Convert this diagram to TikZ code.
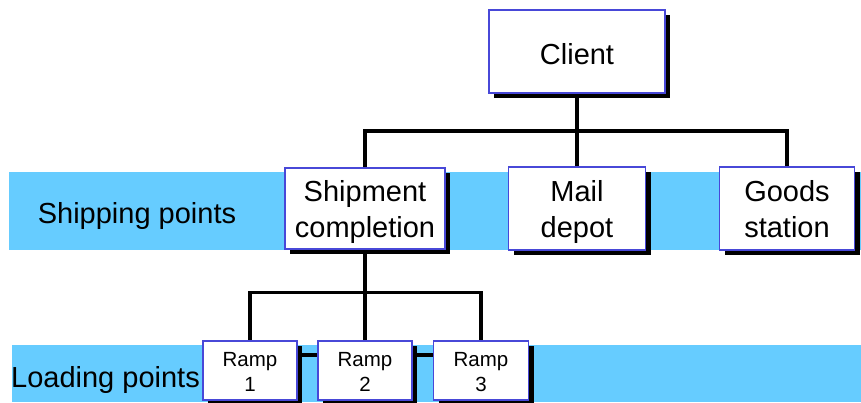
\documentclass[tikz,border=0pt]{standalone}
\usepackage{fontspec}
\setmainfont{Liberation Sans}
\usetikzlibrary{shadows}
\definecolor{bandblue}{HTML}{66CCFF}
\definecolor{boxblue}{RGB}{72,72,216}
\newcommand{\lowerby}[1]{\rule{0pt}{#1}}
\newcommand{\deepby}[1]{\rule[-#1]{0pt}{#1}}
\pgfdeclarelayer{bandlayer}
\pgfdeclarelayer{connlayer}
\pgfsetlayers{bandlayer,connlayer,main}
\tikzset{
  box/.style={draw=boxblue, line width=1.3pt, fill=white, inner sep=0pt,
    align=center,
    drop shadow={shadow xshift=5pt, shadow yshift=-5pt, opacity=1, fill=black}},
  bigtxt/.style={font=\fontsize{29}{36.5}\selectfont},
  smalltxt/.style={font=\fontsize{20.5}{25.7}\selectfont},
  conn/.style={line width=3.4pt, black},
  chain/.style={line width=4pt, black},
  band/.style={fill=bandblue, draw=none},
  bandlabel/.style={font=\fontsize{29}{36.5}\selectfont, anchor=base, inner sep=0pt}
}
\begin{document}
\begin{tikzpicture}[x=1pt, y=-1pt]
\useasboundingbox (0,0) rectangle (861,402);
% bands
\begin{pgfonlayer}{bandlayer}
\path[band] (9,172) rectangle (861,250);
\path[band] (12,345) rectangle (861,402);
\end{pgfonlayer}
% bus coordinates
\coordinate (busA) at (577,131);
\coordinate (busB) at (365,292.5);
% boxes
\node[box, bigtxt, minimum width=176pt, minimum height=83pt] (client) at (577,51.5) {\lowerby{27pt}Client};
\node[box, bigtxt, minimum width=160pt, minimum height=81pt] (ship) at (365,208.5) {\lowerby{29pt}Shipment\\completion\deepby{7pt}};
\node[box, bigtxt, minimum width=137pt, minimum height=83pt] (mail) at (577,208.5) {\lowerby{29pt}Mail\\depot\deepby{7pt}};
\node[box, bigtxt, minimum width=135pt, minimum height=83pt] (goods) at (787,208.5) {\lowerby{29pt}Goods\\station\deepby{7pt}};
\node[box, smalltxt, minimum width=94pt, minimum height=59pt] (ramp1) at (250,370.5) {\lowerby{17pt}Ramp\\1};
\node[box, smalltxt, minimum width=94pt, minimum height=59pt] (ramp2) at (365,370.5) {\lowerby{17pt}Ramp\\2};
\node[box, smalltxt, minimum width=95pt, minimum height=59pt] (ramp3) at (481,370.5) {\lowerby{17pt}Ramp\\3};
% connectors (behind boxes)
\begin{pgfonlayer}{connlayer}
\draw[conn] (client.south) -- (mail.north);
\draw[conn] (ship.north) |- (busA) -| (goods.north);
\draw[conn] (ship.south) -- (ramp2.north);
\draw[conn] (ramp1.north) |- (busB) -| (ramp3.north);
\draw[chain] ([yshift=15.5pt]ramp1.east) -- ([yshift=15.5pt]ramp2.west);
\draw[chain] ([yshift=15.5pt]ramp2.east) -- ([yshift=15.5pt]ramp3.west);
\end{pgfonlayer}
\node[bandlabel] (shiplabel) at (137,223) {Shipping points};
\node[bandlabel] (loadlabel) at (105.5,387) {Loading points};
\end{tikzpicture}
\end{document}
